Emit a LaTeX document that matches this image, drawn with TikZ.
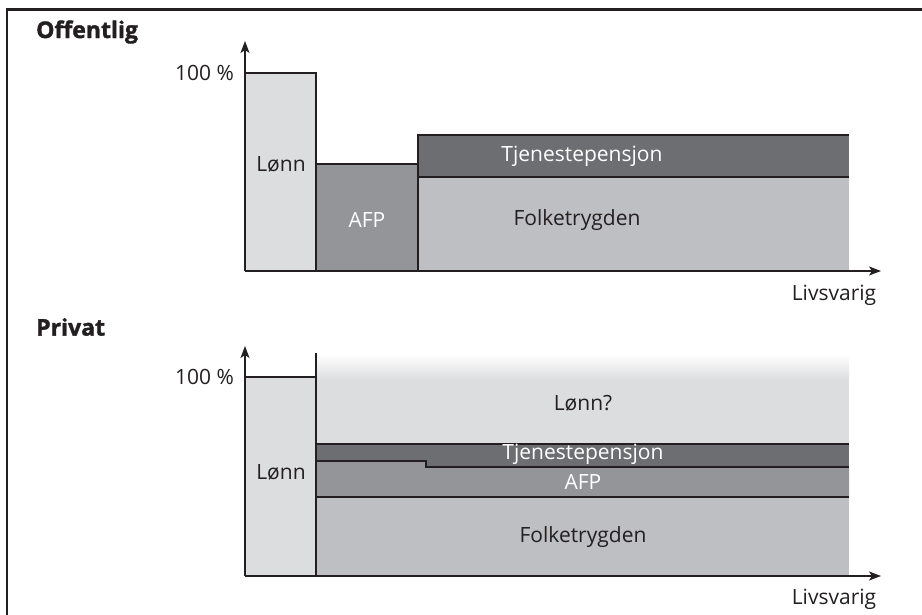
\documentclass[tikz,border=0pt]{standalone}
\usepackage{fontspec}
\setmainfont{Open Sans}
\newfontfamily\heavyfont{Open Sans}[BoldFeatures={FakeBold=1.6}]
\usetikzlibrary{arrows.meta}
\definecolor{ink}{HTML}{231F20}
\definecolor{lonn}{HTML}{DCDDDF}
\definecolor{afp}{HTML}{939598}
\definecolor{tjen}{HTML}{6D6E71}
\definecolor{folk}{HTML}{BEBFC2}
\tikzset{
  edge/.style={draw=ink, line width=1.8pt},
  axis/.style={draw=ink, line width=1.5pt, -{Stealth[length=12pt,width=9pt,inset=3pt]}},
  lbl/.style={font=\fontsize{21}{24}\selectfont, text=ink, inner sep=0pt},
  wlbl/.style={font=\fontsize{21}{24}\selectfont, text=white, inner sep=0pt},
  head/.style={font=\fontsize{23}{26}\selectfont\heavyfont\bfseries, text=ink, inner sep=0pt, anchor=west},
}
\begin{document}
\begin{tikzpicture}[x=1pt,y=-1pt]
\useasboundingbox (0,0) rectangle (922,615);
% outer frame, open towards the right and the bottom
\draw[ink, line width=2.2pt] (7,615) -- (7,9.5) -- (922,9.5);

% ---------------- Offentlig ----------------
\node[head] (hoff) at (36,32) {Offentlig};
\fill[lonn] (245,73) rectangle (316,271);
\fill[afp] (316,164) rectangle (418,271);
\fill[tjen] (418,135) rectangle (849,177);
\fill[folk] (418,177) rectangle (849,271);
\draw[edge] (245,73) -- (316,73) -- (316,271);
\draw[edge] (316,164) -- (418,164) -- (418,271);
\draw[edge] (418,177) -- (418,135) -- (849,135);
\draw[edge] (418,177) -- (849,177);
\coordinate (o0) at (245,271);
\coordinate (oy) at (245,41);
\coordinate (ox) at (881,271);
\draw[axis] (o0) -- (oy);
\draw[axis] (o0) -- (ox);
\node[lbl, anchor=east] (p1) at (234,73) {100 \%};
\node[lbl] (l1) at (281,164) {Lønn};
\node[wlbl] (a1) at (367,220) {AFP};
\node[wlbl] (t1) at (582,156) {Tjenestepensjon};
\node[lbl] (f1) at (577,220) {Folketrygden};
\node[lbl] (v1) at (834,295) {Livsvarig};

% ---------------- Privat ----------------
\node[head] (hpriv) at (36,327) {Privat};
\fill[lonn] (245,377) rectangle (316,576);
\shade[top color=white, bottom color=lonn] (316,354) rectangle (849,380);
\fill[lonn] (316,379.5) rectangle (849,444);
\fill[tjen] (316,444) rectangle (849,467);
\fill[afp] (316,461) -- (426,461) -- (426,467) -- (849,467) -- (849,497) -- (316,497) -- cycle;
\fill[folk] (316,497) rectangle (849,576);
\draw[edge] (245,377) -- (316,377);
\draw[edge] (316,353) -- (316,576);
\draw[edge] (316,444) -- (849,444);
\draw[edge] (316,461) -- (426,461) -- (426,467) -- (849,467);
\draw[edge] (316,497) -- (849,497);
\coordinate (p0) at (245,576);
\coordinate (py) at (245,346);
\coordinate (px) at (881,576);
\draw[axis] (p0) -- (py);
\draw[axis] (p0) -- (px);
\node[lbl, anchor=east] (p2) at (234,377) {100 \%};
\node[lbl] (l2) at (281,472) {Lønn};
\node[lbl] (q2) at (583,403) {Lønn?};
\node[wlbl] (t2) at (583,454) {Tjenestepensjon};
\node[wlbl] (a2) at (583,482) {AFP};
\node[lbl] (f2) at (583,537) {Folketrygden};
\node[lbl] (v2) at (834,599) {Livsvarig};
\end{tikzpicture}
\end{document}
